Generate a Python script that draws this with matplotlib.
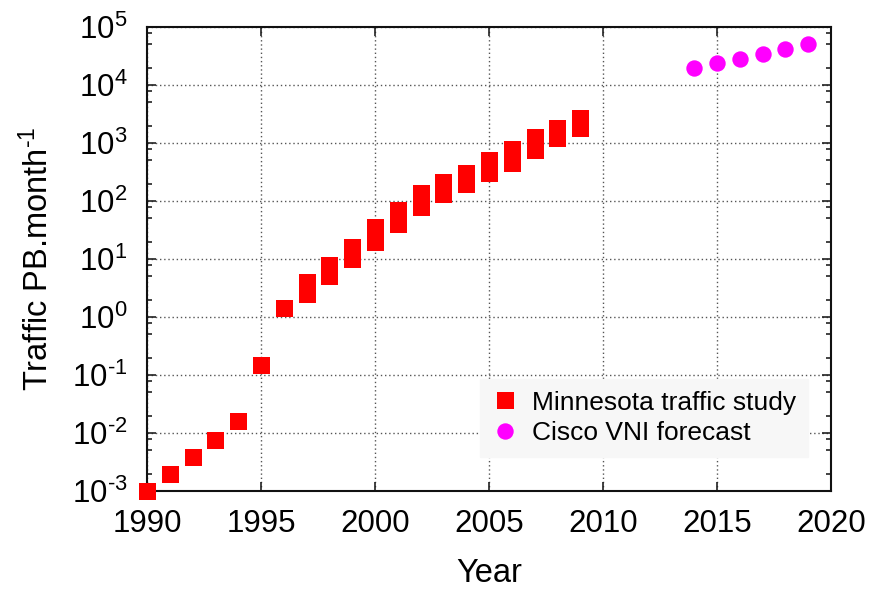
import math
import matplotlib
matplotlib.use("Agg")
import matplotlib.pyplot as plt
from matplotlib.ticker import LogLocator, FixedLocator, FuncFormatter, NullFormatter

plt.rcParams['font.family'] = ['Liberation Sans', 'DejaVu Sans']
plt.rcParams['mathtext.fontset'] = 'custom'
plt.rcParams['mathtext.rm'] = 'Liberation Sans'
plt.rcParams['mathtext.it'] = 'Liberation Sans:italic'
plt.rcParams['mathtext.bf'] = 'Liberation Sans:bold'

# Minnesota traffic study: low / high estimates (PB per month)
mints_years = [1990, 1991, 1992, 1993, 1994, 1995, 1996, 1997, 1998, 1999,
               2000, 2001, 2002, 2003, 2004, 2005, 2006, 2007, 2008, 2009]
mints_low = [0.001, 0.002, 0.0039, 0.0077, 0.016, 0.15, 1.45, 2.5, 5, 10,
             20, 40, 80, 130, 200, 300, 450, 750, 1200, 1800]
mints_high = [0.001, 0.002, 0.0039, 0.0077, 0.016, 0.15, 1.45, 4, 8, 16,
              35, 70, 140, 210, 300, 500, 800, 1250, 1800, 2650]

# Cisco VNI forecast
cisco_years = [2014, 2015, 2016, 2017, 2018, 2019]
cisco_traffic = [19600, 24000, 28000, 34000, 42000, 50000]

x_ticks = [1990, 1995, 2000, 2005, 2010, 2015, 2020]

fig = plt.figure(figsize=(8.76, 5.9), dpi=100)
ax = fig.add_axes([147 / 876, 1 - 491 / 590, 684 / 876, 464 / 590])

red = '#ff0000'
box = 12.24  # marker side in points (17 px)

# range bars: a vertical band between low and high, capped by squares
ax.vlines(mints_years, mints_low, mints_high, colors=red, linewidth=box,
          zorder=3, clip_on=False)
ax.plot(mints_years, mints_low, 's', color=red, markersize=box,
        markeredgewidth=0, zorder=3, clip_on=False,
        label='Minnesota traffic study')
ax.plot(mints_years, mints_high, 's', color=red, markersize=box,
        markeredgewidth=0, zorder=3, clip_on=False)
ax.plot(cisco_years, cisco_traffic, 'o', color='#ff00ff', markersize=11.8,
        markeredgewidth=0, zorder=3, clip_on=False,
        label='Cisco VNI forecast')

ax.set_yscale('log')
ax.set_xlim(1990, 2020)
ax.set_ylim(1e-3, 1e5)

ax.xaxis.set_major_locator(FixedLocator(x_ticks))
ax.yaxis.set_major_locator(LogLocator(base=10, numticks=20))
ax.yaxis.set_minor_locator(LogLocator(base=10, subs=[2, 5, 8], numticks=20))
ax.yaxis.set_minor_formatter(NullFormatter())


def pow_label(v, pos):
    e = int(round(math.log10(v)))
    return r'10$^{\text{%d}}$' % e


ax.yaxis.set_major_formatter(FuncFormatter(pow_label))

ax.tick_params(axis='both', which='both', direction='in', top=True,
               right=True, labelsize=22.5, width=1.2, color='#222222')
ax.tick_params(axis='both', which='major', length=6.5)
ax.tick_params(axis='y', which='minor', length=3.5)
ax.tick_params(axis='x', which='major', pad=13)
ax.tick_params(axis='y', which='major', pad=14)

for s in ax.spines.values():
    s.set_linewidth(1.5)
    s.set_color('#111111')

ax.grid(True, which='major', linestyle=(0, (1, 2)), color='#555555',
        linewidth=1.0)
ax.set_axisbelow(True)

ax.set_xlabel('Year', fontsize=23.5, labelpad=14)
ax.set_ylabel(r'Traffic PB.month$^{\text{-1}}$', fontsize=23.5, labelpad=12)

leg = ax.legend(loc='lower right', bbox_to_anchor=(0.966, 0.073),
                borderaxespad=0, fontsize=19, frameon=True, fancybox=False,
                handletextpad=0.5, borderpad=0.45, labelspacing=0.25,
                handlelength=1.0)
leg.get_frame().set_facecolor('#f7f7f7')
leg.get_frame().set_edgecolor('#f7f7f7')
leg.get_frame().set_alpha(1)

fig.savefig('out.png', dpi=100)
